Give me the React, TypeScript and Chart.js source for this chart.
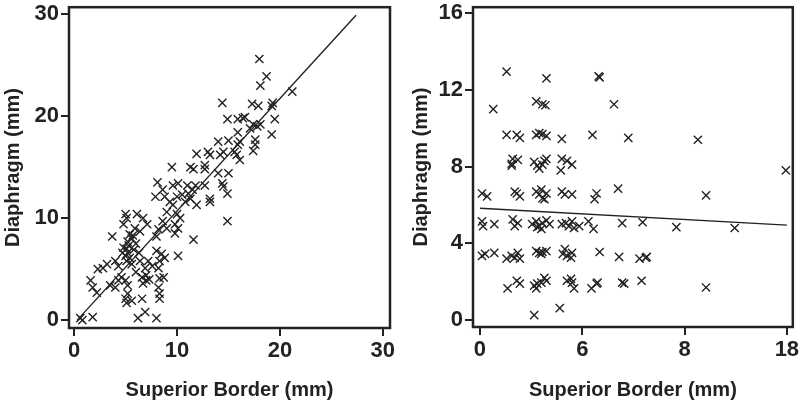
import React, { useEffect, useRef } from "react";
import { Chart, registerables } from "chart.js";
Chart.register(...registerables);

// ---------- data ----------
const leftPoints: [number, number][] = [
  [18.0, 25.6], [18.7, 23.9], [18.1, 23.0], [21.2, 22.4], [14.4, 21.3], [17.3, 21.2], [17.9, 21.0], [19.2, 21.0],
  [19.3, 21.3], [19.5, 19.7], [14.9, 19.7], [15.9, 19.7], [16.4, 19.8], [16.6, 19.9], [17.4, 19.2], [17.8, 19.0],
  [18.1, 19.2], [17.1, 18.8], [19.2, 18.2], [15.9, 18.4], [16.1, 17.5], [15.9, 17.2], [17.6, 17.7], [17.6, 17.2],
  [17.4, 16.6], [14.0, 17.5], [15.0, 17.6], [15.6, 16.5], [15.8, 16.2], [16.1, 15.7], [11.9, 16.3], [13.0, 16.5],
  [13.2, 16.2], [14.2, 16.2], [14.5, 16.5], [9.5, 15.0], [11.3, 15.0], [11.6, 14.8], [12.7, 15.2], [12.7, 14.8],
  [14.0, 14.4], [15.0, 14.4], [14.4, 13.4], [14.5, 13.1], [14.9, 12.4], [8.1, 13.5], [8.6, 12.8], [9.6, 13.2],
  [10.1, 13.4], [11.0, 13.2], [11.5, 12.8], [11.8, 13.2], [12.7, 13.2], [7.9, 12.1], [8.8, 12.1], [10.0, 12.1],
  [11.1, 12.4], [11.3, 11.9], [13.2, 11.9], [13.2, 11.6], [10.5, 12.3], [10.8, 11.6], [11.9, 11.3], [9.6, 11.3],
  [9.3, 11.6], [9.0, 10.6], [8.6, 9.7], [8.2, 8.9], [8.0, 8.2], [14.9, 9.7], [11.6, 7.9], [10.0, 10.4],
  [10.3, 10.0], [9.8, 9.4], [10.1, 9.0], [10.1, 6.3], [8.0, 6.8], [8.5, 6.5], [8.3, 5.8], [8.8, 6.1],
  [8.2, 5.1], [8.3, 4.1], [8.7, 4.2], [8.2, 3.2], [8.3, 2.6], [8.3, 2.1], [8.0, 0.2], [6.4, 5.8],
  [6.9, 5.1], [6.6, 4.2], [7.0, 3.9], [6.7, 3.6], [7.0, 4.4], [7.3, 4.0], [6.1, 10.4], [6.7, 10.0],
  [7.1, 9.4], [6.4, 8.7], [6.6, 2.1], [6.2, 0.2], [6.9, 0.8], [5.0, 10.4], [5.1, 10.0], [4.8, 9.4],
  [5.4, 8.4], [5.6, 8.0], [5.7, 8.3], [5.2, 7.7], [4.8, 7.1], [5.1, 7.0], [5.3, 7.3], [5.2, 6.6],
  [5.0, 6.3], [5.4, 6.1], [5.1, 5.8], [5.6, 5.5], [4.7, 6.6], [5.8, 6.9], [3.7, 8.2], [1.6, 3.9],
  [1.8, 3.2], [2.2, 2.7], [2.3, 5.0], [2.8, 5.1], [3.2, 5.5], [4.0, 5.8], [4.3, 5.3], [3.5, 3.4],
  [4.0, 3.2], [4.3, 3.9], [4.6, 4.2], [5.0, 3.9], [5.2, 3.4], [5.2, 2.6], [5.0, 2.1], [5.1, 1.7],
  [5.6, 1.9], [0.6, 0.2], [0.8, 0.0], [1.8, 0.3], [6.0, 7.5], [6.3, 6.6], [5.9, 9.0], [7.6, 5.3],
  [7.2, 5.8], [6.0, 4.7], [9.8, 8.5], [9.0, 9.0],
];
const leftFit: [number, number][] = [[0.3, 0], [27.4, 29.9]];
const leftXTicks = [0, 10, 20, 30];
const leftYTicks = [0, 10, 20, 30];

// right panel: x stored in axis positions, labelled by rightXTickLabels
const rightPoints: [number, number][] = [
  [0.26, 12.95], [0.65, 12.6], [1.16, 12.7], [1.17, 12.65],
  [0.13, 11.0], [0.55, 11.4], [0.61, 11.25], [0.64, 11.2], [1.31, 11.25],
  [0.26, 9.65], [0.36, 9.65], [0.39, 9.5], [0.55, 9.65], [0.58, 9.75], [0.61, 9.7], [0.65, 9.6], [0.8, 9.45],
  [1.1, 9.65], [1.45, 9.5], [2.13, 9.4],
  [0.31, 8.15], [0.32, 8.4], [0.37, 8.35], [0.31, 8.05], [0.53, 8.25], [0.56, 8.05], [0.58, 7.9], [0.61, 8.1],
  [0.63, 8.3], [0.65, 8.4], [0.8, 8.4], [0.79, 7.8], [0.85, 8.3], [0.9, 8.1], [2.99, 7.8],
  [0.02, 6.6], [0.07, 6.45], [0.36, 6.6], [0.39, 6.45], [0.34, 6.7], [0.55, 6.7], [0.58, 6.55], [0.61, 6.35],
  [0.65, 6.6], [0.63, 6.3], [0.6, 6.8], [0.8, 6.7], [0.83, 6.55], [0.9, 6.55], [1.14, 6.6], [1.12, 6.3],
  [1.35, 6.85], [2.21, 6.5],
  [0.02, 5.15], [0.03, 4.9], [0.14, 5.0], [0.32, 5.25], [0.37, 5.05], [0.34, 4.9], [0.51, 5.0], [0.55, 5.15],
  [0.58, 4.9], [0.61, 5.05], [0.65, 5.2], [0.68, 5.0], [0.6, 4.75], [0.56, 4.85], [0.8, 5.0], [0.84, 5.05],
  [0.87, 4.9], [0.9, 5.15], [0.92, 4.8], [0.97, 4.9], [1.06, 5.15], [1.11, 4.75], [1.39, 5.05], [1.59, 5.1],
  [1.92, 4.85], [2.49, 4.8],
  [0.02, 3.35], [0.05, 3.45], [0.14, 3.5], [0.26, 3.2], [0.31, 3.35], [0.34, 3.25], [0.37, 3.5], [0.39, 3.2],
  [0.55, 3.6], [0.58, 3.5], [0.61, 3.55], [0.65, 3.6], [0.6, 3.45], [0.81, 3.45], [0.83, 3.7], [0.85, 3.35],
  [0.89, 3.25], [0.9, 3.5], [1.17, 3.55], [1.36, 3.3], [1.56, 3.2], [1.62, 3.25], [1.63, 3.3],
  [0.27, 1.65], [0.36, 2.05], [0.39, 1.9], [0.55, 1.65], [0.56, 1.9], [0.6, 1.95], [0.63, 2.2], [0.65, 2.05],
  [0.53, 1.8], [0.85, 2.05], [0.89, 2.15], [0.92, 1.65], [0.9, 1.95], [1.09, 1.65], [1.14, 1.9], [1.15, 1.95],
  [1.39, 1.95], [1.41, 1.9], [1.58, 2.05], [2.21, 1.7],
  [0.53, 0.26], [0.78, 0.62],
];
const rightFit: [number, number][] = [[0, 5.83], [3.0, 4.95]];
const rightXTicks = [0, 1, 2, 3];
const rightXTickLabels = ["0", "6", "8", "18"];
const rightYTicks = [0, 4, 8, 12, 16];

const xTitle = "Superior Border (mm)";
const yTitle = "Diaphragm (mm)";

// ---------- styling ----------
const INK = "#222";
const FONT = "'Liberation Sans', Arial, sans-serif";

const framePlugin = {
  id: "frame",
  afterDraw(chart: any) {
    const { ctx, chartArea } = chart;
    const { left, top, right, bottom } = chartArea;
    ctx.save();
    ctx.strokeStyle = INK;
    ctx.lineWidth = 2.5;
    ctx.strokeRect(left, top, right - left, bottom - top);
    ctx.restore();
  },
};

type PanelProps = {
  points: [number, number][];
  fit: [number, number][];
  xMin: number; xMax: number; yMin: number; yMax: number;
  xTicks: number[]; yTicks: number[];
  xLabel: (v: number) => string;
  yAxisWidth: number; xAxisHeight: number;
  pad: { left: number; right: number; top: number; bottom: number };
  yTitlePad: number;
};

function Panel(p: PanelProps) {
  const ref = useRef<HTMLCanvasElement | null>(null);
  useEffect(() => {
    if (!ref.current) return;
    const tickFont = { family: FONT, size: 22, weight: "bold" as const };
    const titleFont = { family: FONT, size: 20, weight: "bold" as const };
    const grid = { drawOnChartArea: false, drawTicks: true, tickLength: 8, color: INK, lineWidth: 2 };
    const chart = new Chart(ref.current, {
      type: "scatter",
      data: {
        datasets: [
          {
            data: p.points.map(([x, y]) => ({ x, y })),
            pointStyle: "crossRot",
            pointRadius: 5.8,
            pointBorderWidth: 1.4,
            borderColor: INK,
            backgroundColor: INK,
            showLine: false,
          },
          {
            data: p.fit.map(([x, y]) => ({ x, y })),
            showLine: true,
            pointRadius: 0,
            borderWidth: 1.4,
            borderColor: INK,
          },
        ],
      },
      options: {
        responsive: false,
        animation: false,
        devicePixelRatio: 1,
        layout: { padding: p.pad },
        plugins: { legend: { display: false }, tooltip: { enabled: false } },
        scales: {
          x: {
            type: "linear",
            min: p.xMin,
            max: p.xMax,
            afterBuildTicks: (s: any) => { s.ticks = p.xTicks.map((v) => ({ value: v })); },
            afterFit: (s: any) => { s.height = p.xAxisHeight; s.paddingLeft = 0; s.paddingRight = 0; },
            grid,
            border: { display: false },
            ticks: {
              color: INK, font: tickFont, padding: 2, maxRotation: 0, autoSkip: false,
              callback: (v: any) => p.xLabel(Number(v)),
            },
            title: { display: true, text: xTitle, color: INK, font: titleFont, padding: { top: 0, bottom: 1 } },
          },
          y: {
            type: "linear",
            min: p.yMin,
            max: p.yMax,
            afterBuildTicks: (s: any) => { s.ticks = p.yTicks.map((v) => ({ value: v })); },
            afterFit: (s: any) => { s.width = p.yAxisWidth; s.paddingTop = 0; s.paddingBottom = 0; },
            grid,
            border: { display: false },
            ticks: { color: INK, font: tickFont, padding: 2, autoSkip: false, callback: (v: any) => String(v) },
            title: { display: true, text: yTitle, color: INK, font: titleFont, padding: { top: p.yTitlePad, bottom: 0 } },
          },
        },
      },
      plugins: [framePlugin],
    } as any);
    return () => chart.destroy();
  }, []);
  return <canvas ref={ref} width={400} height={403} style={{ display: "block", width: 400, height: 403 }} />;
}

export default function App() {
  return (
    <div style={{ position: "fixed", left: 0, top: 0, width: 800, height: 403, display: "flex", background: "#fff" }}>
      <Panel
        points={leftPoints}
        fit={leftFit}
        xMin={-0.5} xMax={30.7} yMin={-0.77} yMax={30.68}
        xTicks={leftXTicks} yTicks={leftYTicks}
        xLabel={(v) => String(v)}
        yAxisWidth={69} xAxisHeight={75}
        pad={{ left: 0, right: 10, top: 3, bottom: 0 }}
        yTitlePad={1}
      />
      <Panel
        points={rightPoints}
        fit={rightFit}
        xMin={-0.068} xMax={3.058} yMin={-0.36} yMax={16.31}
        xTicks={rightXTicks} yTicks={rightYTicks}
        xLabel={(v) => rightXTickLabels[Math.round(v)] ?? ""}
        yAxisWidth={73} xAxisHeight={76}
        pad={{ left: 0, right: 5, top: 4, bottom: 0 }}
        yTitlePad={9}
      />
    </div>
  );
}
